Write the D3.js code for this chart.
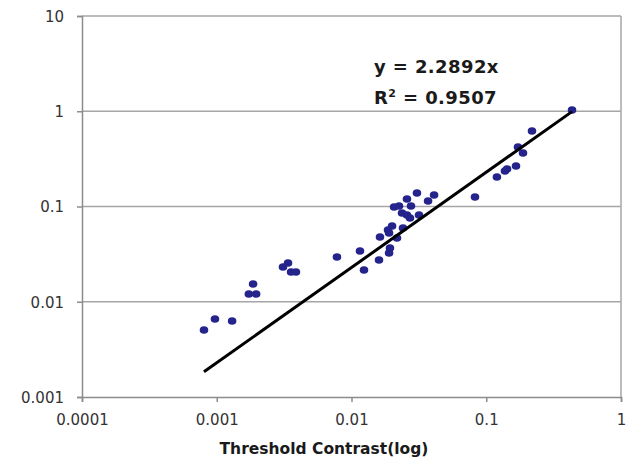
<!DOCTYPE html>
<html>
<head>
<meta charset="utf-8">
<script src="https://cdn.jsdelivr.net/npm/d3@7"></script>
<style>
  html, body { margin: 0; padding: 0; background: #fff; }
  svg { display: block; font-family: 'DejaVu Sans', Verdana, sans-serif; }
</style>
</head>
<body>
<div id="chart"></div>
<script>
const contrast = [
  0.000804, 0.00097, 0.0013, 0.00173, 0.00196, 0.00186, 0.0031, 0.00338, 0.00356, 0.00387,
  0.0078, 0.01156, 0.01238, 0.016, 0.019, 0.0193, 0.01627, 0.01866, 0.020, 0.02176,
  0.019, 0.0241, 0.0207, 0.02252, 0.0237, 0.0258, 0.02764, 0.0258, 0.02717, 0.0306,
  0.0317, 0.037, 0.041, 0.0825, 0.120, 0.1377, 0.1426, 0.1663, 0.172, 0.1874,
  0.2185, 0.433
];
const response = [
  0.00505, 0.00659, 0.00628, 0.01206, 0.01206, 0.01536, 0.02317, 0.0255, 0.02053, 0.02053,
  0.0295, 0.0341, 0.02154, 0.02743, 0.0325, 0.0367, 0.0478, 0.0567, 0.0624, 0.0467,
  0.0527, 0.0595, 0.0988, 0.1012, 0.0855, 0.120, 0.1012, 0.0814, 0.0757, 0.1386,
  0.0814, 0.1142, 0.132, 0.1258, 0.204, 0.236, 0.2475, 0.266, 0.4213, 0.3644,
  0.620, 1.031
];
const slope = 2.2892;
const rSquared = '0.9507';
const xTicks = [0.0001, 0.001, 0.01, 0.1, 1];
const xTickLabels = ['0.0001', '0.001', '0.01', '0.1', '1'];
const yTicks = [0.001, 0.01, 0.1, 1, 10];
const yTickLabels = ['0.001', '0.01', '0.1', '1', '10'];

const width = 634, height = 457;
const margin = { top: 16, right: 13, bottom: 60, left: 82 };
const innerW = width - margin.left - margin.right;
const innerH = height - margin.top - margin.bottom;

const x = d3.scaleLog().domain([xTicks[0], xTicks[xTicks.length - 1]]).range([0, innerW]);
const y = d3.scaleLog().domain([yTicks[0], yTicks[yTicks.length - 1]]).range([innerH, 0]);

const svg = d3.select('#chart').append('svg').attr('width', width).attr('height', height);
const g = svg.append('g').attr('transform', `translate(${margin.left},${margin.top})`);

// gridlines
g.selectAll('.grid').data(yTicks.slice(1)).join('line')
  .attr('x1', 0).attr('x2', innerW)
  .attr('y1', d => y(d)).attr('y2', d => y(d))
  .attr('stroke', '#a6a6a6').attr('stroke-width', 1.5);

// plot frame
g.append('line').attr('x1', innerW).attr('x2', innerW).attr('y1', 0).attr('y2', innerH)
  .attr('stroke', '#a6a6a6').attr('stroke-width', 1.5);

const yAxis = g.append('g').call(d3.axisLeft(y).tickValues(yTicks).tickFormat((d, i) => yTickLabels[i]).tickSize(5).tickPadding(13));
const xAxis = g.append('g').attr('transform', `translate(0,${innerH})`)
  .call(d3.axisBottom(x).tickValues(xTicks).tickFormat((d, i) => xTickLabels[i]).tickSize(5).tickPadding(12));
[yAxis, xAxis].forEach(ax => {
  ax.select('.domain').attr('stroke', '#8c8c8c').attr('stroke-width', 1.5);
  ax.selectAll('.tick line').attr('stroke', '#8c8c8c').attr('stroke-width', 1.5);
  ax.selectAll('.tick text').attr('font-size', 15).attr('fill', '#333')
    .attr('font-family', "'DejaVu Sans', Verdana, sans-serif");
});
yAxis.selectAll('.tick text').attr('dy', '0.35em');

// points
g.selectAll('.pt').data(contrast.map((c, i) => [c, response[i]])).join('ellipse')
  .attr('cx', d => x(d[0])).attr('cy', d => y(d[1]))
  .attr('rx', 4.3).attr('ry', 3.8)
  .attr('fill', '#25248c');

// linear fit through origin
const [xMin, xMax] = d3.extent(contrast);
g.append('line')
  .attr('x1', x(xMin)).attr('y1', y(slope * xMin))
  .attr('x2', x(xMax)).attr('y2', y(slope * xMax))
  .attr('stroke', '#000').attr('stroke-width', 3);

// equation label
const eq = g.append('text').attr('x', 292).attr('y', 57)
  .attr('font-size', 18).attr('font-weight', 'bold').attr('letter-spacing', 0.4).attr('fill', '#1a1a1a')
  .text(`y = ${slope}x`);
const r2 = g.append('text').attr('x', 292).attr('y', 88)
  .attr('font-size', 18).attr('font-weight', 'bold').attr('letter-spacing', 0.4).attr('fill', '#1a1a1a');
r2.append('tspan').text('R');
r2.append('tspan').attr('dy', -7).attr('font-size', 11).text('2');
r2.append('tspan').attr('dy', 7).text(` = ${rSquared}`);

// axis title
svg.append('text').attr('x', margin.left + 242).attr('y', 454)
  .attr('text-anchor', 'middle').attr('font-size', 15.5).attr('font-weight', 'bold').attr('fill', '#1a1a1a')
  .text('Threshold Contrast(log)');
</script>
</body>
</html>
